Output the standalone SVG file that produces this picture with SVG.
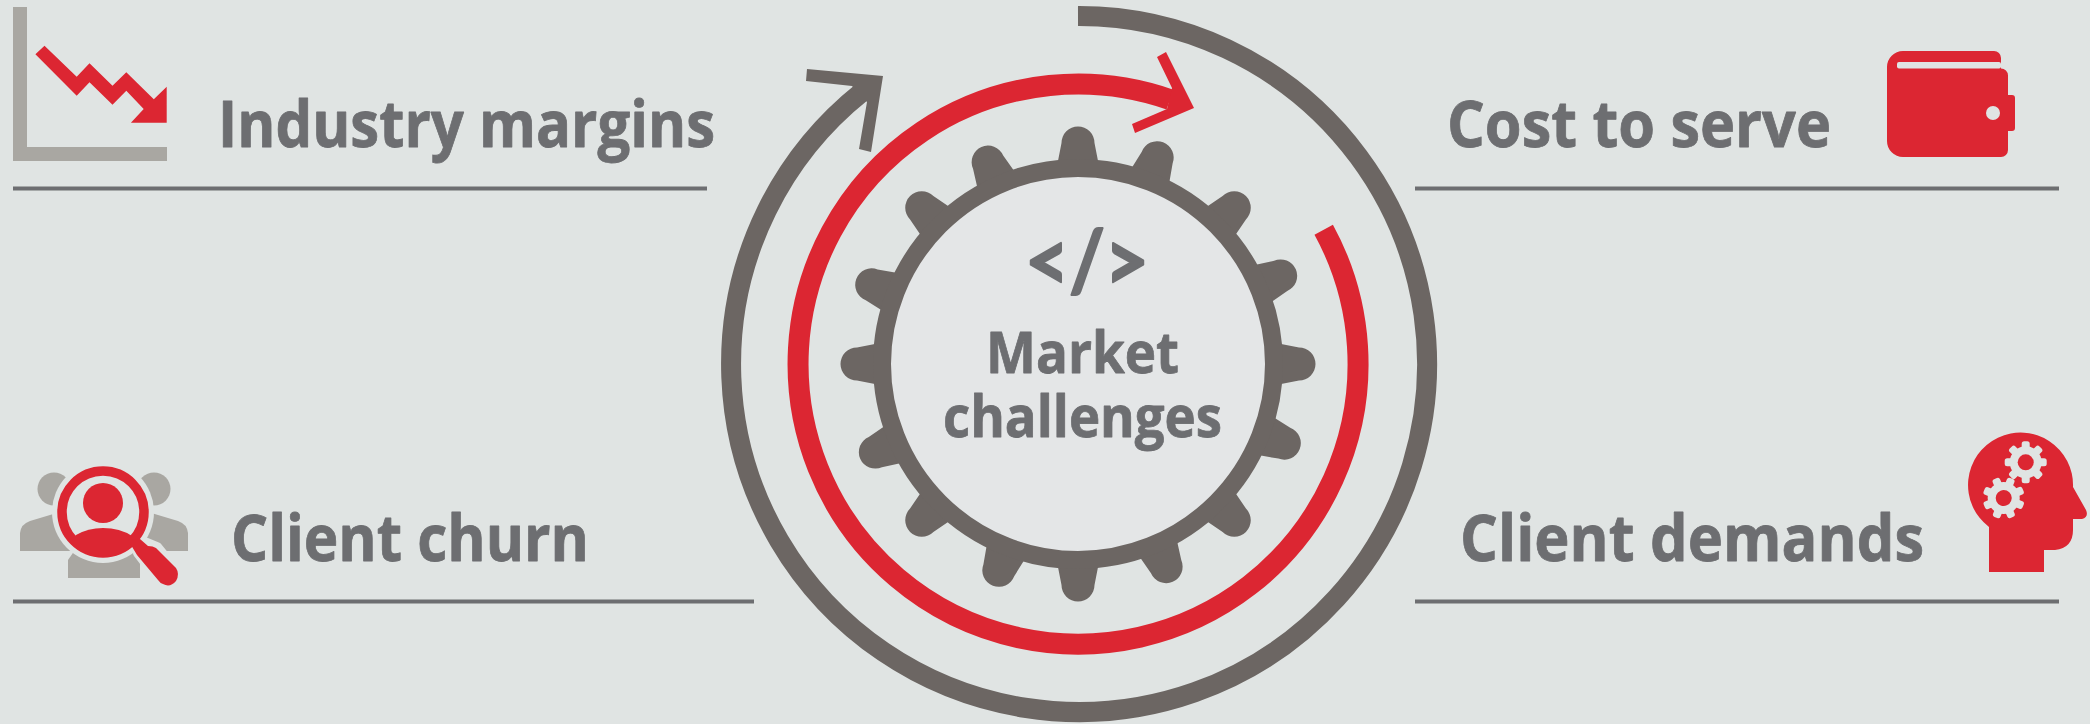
<svg xmlns="http://www.w3.org/2000/svg" xmlns:xlink="http://www.w3.org/1999/xlink" width="2090" height="724" viewBox="0 0 2090 724">
<style>
.t{font-family:"Open Sans","Noto Sans","Liberation Sans",sans-serif;font-weight:700;fill:#6d6e71;stroke:#6d6e71;stroke-width:.8;stroke-linejoin:round}
.c{font-family:Lato,"Open Sans",sans-serif;font-size:85px;stroke-width:2.2}
.h{font-size:64px}
.m{font-size:58px}
.rule{fill:none;stroke:#6d6e71;stroke-width:4}
.red{fill:#dc2632}
.lg{fill:#a9a7a2}
.bg{fill:#e0e4e3}
.gr{fill:#6c6663}
</style>
<defs>
<path id="tooth" d="M-21-198L-16.5-221A16.5 16.5 0 0 1 16.5-221L21-198Z"/>
<g id="cog">
<g class="bg">
<circle r="16"/>
<rect x="-4" y="-21" width="8" height="42" rx="2.5"/>
<rect x="-4" y="-21" width="8" height="42" rx="2.5" transform="rotate(45)"/>
<rect x="-4" y="-21" width="8" height="42" rx="2.5" transform="rotate(90)"/>
<rect x="-4" y="-21" width="8" height="42" rx="2.5" transform="rotate(135)"/>
</g>
<circle class="red" r="8"/>
</g>
</defs>
<rect width="2090" height="724" class="bg"/>

<g id="connectors">
<path d="M1078 16A348 348 0 1 1 862 92" fill="none" stroke="#6c6663" stroke-width="20"/>
<path class="gr" d="M807 69L883 76L871 152L859 149L867 102L852 86L806 81Z"/>
<path d="M1323.7 229.7A280 280 0 1 1 1170 99.6" fill="none" stroke="#dc2632" stroke-width="21"/>
<path class="red" d="M1157 57L1166 52L1194 108L1135 133L1132 124L1167 109L1172 88Z"/>
</g>

<g id="node-gear">
<g class="gr" transform="translate(1078 364)">
<use xlink:href="#tooth" href="#tooth"/>
<use xlink:href="#tooth" href="#tooth" transform="rotate(21)"/>
<use xlink:href="#tooth" href="#tooth" transform="rotate(45)"/>
<use xlink:href="#tooth" href="#tooth" transform="rotate(66.5)"/>
<use xlink:href="#tooth" href="#tooth" transform="rotate(90)"/>
<use xlink:href="#tooth" href="#tooth" transform="rotate(111)"/>
<use xlink:href="#tooth" href="#tooth" transform="rotate(135)"/>
<use xlink:href="#tooth" href="#tooth" transform="rotate(156.5)"/>
<use xlink:href="#tooth" href="#tooth" transform="rotate(180)"/>
<use xlink:href="#tooth" href="#tooth" transform="rotate(201)"/>
<use xlink:href="#tooth" href="#tooth" transform="rotate(225)"/>
<use xlink:href="#tooth" href="#tooth" transform="rotate(246.5)"/>
<use xlink:href="#tooth" href="#tooth" transform="rotate(270)"/>
<use xlink:href="#tooth" href="#tooth" transform="rotate(291)"/>
<use xlink:href="#tooth" href="#tooth" transform="rotate(315)"/>
<use xlink:href="#tooth" href="#tooth" transform="rotate(336)"/>
</g>
<circle cx="1078" cy="364" r="196" fill="#e4e6e7" stroke="#6c6663" stroke-width="18"/>
<text class="t c" x="1025" y="291" textLength="124" lengthAdjust="spacingAndGlyphs">&lt;/&gt;</text>
<text class="t m" x="986" y="373" textLength="193" lengthAdjust="spacingAndGlyphs">Market</text>
<text class="t m" x="943" y="437" textLength="279" lengthAdjust="spacingAndGlyphs">challenges</text>
</g>

<g id="node-industry-margins">
<rect class="lg" x="13" y="7" width="14" height="140"/>
<rect class="lg" x="13" y="147" width="154" height="14"/>
<path class="red" d="M44.5 45.7L76.7 76.7L89.5 63.3L112.5 85.7L126.3 72.3L153.8 99.3L166.7 86.7V122.7H130.9L143.7 109L126.3 90.7L112.5 104.7L89.5 82.3L76.7 95.7L35.4 54.3Z"/>
<text class="t h" x="218" y="147" textLength="497" lengthAdjust="spacingAndGlyphs">Industry margins</text>
<path class="rule" d="M13 188.5H707"/>
</g>

<g id="node-cost-to-serve">
<path class="red" d="M1903 51H1994A7 7 0 0 1 2001 58V68.5A7 7 0 0 1 2008 75.5V95H2012A3 3 0 0 1 2015 98V128A3 3 0 0 1 2012 131H2008V150A7 7 0 0 1 2001 157H1903A16 16 0 0 1 1887 141V67A16 16 0 0 1 1903 51Z"/>
<rect class="bg" x="1897" y="62" width="104" height="6.5" rx="2"/>
<rect class="bg" x="2001" y="60" width="8" height="8"/>
<circle class="bg" cx="1993" cy="113" r="7"/>
<text class="t h" x="1447" y="147" textLength="384" lengthAdjust="spacingAndGlyphs">Cost to serve</text>
<path class="rule" d="M1415 188.5H2059"/>
</g>

<g id="node-client-churn">
<circle class="lg" cx="54" cy="489" r="16.5"/>
<circle class="lg" cx="154" cy="489" r="16.5"/>
<path class="lg" d="M20 551V533Q21 524 30 521L60 512L80 551Z"/>
<path class="lg" d="M188 551V533Q187 524 178 521L148 512L128 551Z"/>
<path class="lg" d="M68 578V560L75 550H140V578Z"/>
<circle class="bg" cx="103" cy="512" r="51"/>
<path d="M140 540L157 547L178 573L168 586L160 582L138 553Z" class="bg" stroke="#e0e4e3" stroke-width="10" stroke-linejoin="round"/>
<circle cx="103" cy="512" r="41" fill="none" stroke="#dc2632" stroke-width="9.5"/>
<circle class="red" cx="103" cy="503" r="20"/>
<path class="red" d="M76 535Q88 528 103 528Q120 528 132 536L137 540A41 41 0 0 1 72 540Z"/>
<path class="red" d="M128 540L140 539L148 546Q153 546 156 548L176 568Q180 574 176 581Q170 588 163 584Q160 583 158 580L137 555Z"/>
<text class="t h" x="231" y="561" textLength="358" lengthAdjust="spacingAndGlyphs">Client churn</text>
<path class="rule" d="M13 601.5H754"/>
</g>

<g id="node-client-demands">
<path class="red" d="M1989 527V572H2044V550H2055Q2073 548 2073 530V519H2082Q2089 517 2086 510L2073 487A52.5 52.5 0 1 0 1989 527Z"/>
<use xlink:href="#cog" href="#cog" transform="translate(2025.7 462.3)"/>
<use xlink:href="#cog" href="#cog" transform="translate(2003.7 498) rotate(22)"/>
<text class="t h" x="1460" y="561" textLength="464" lengthAdjust="spacingAndGlyphs">Client demands</text>
<path class="rule" d="M1415 601.5H2059"/>
</g>
</svg>
